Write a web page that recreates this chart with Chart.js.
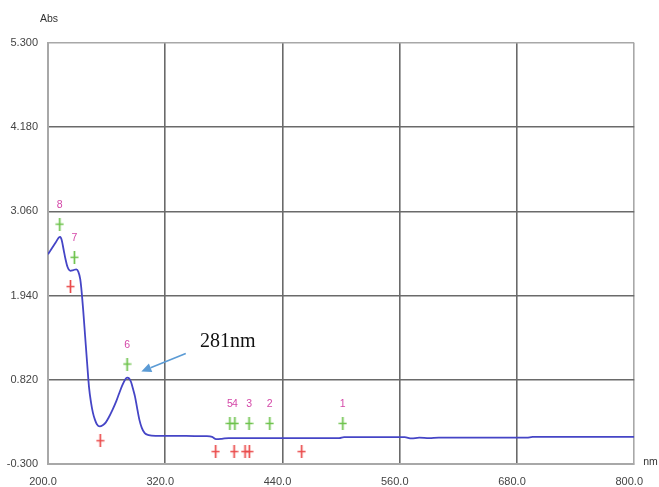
<!DOCTYPE html>
<html>
<head>
<meta charset="utf-8">
<script src="https://cdn.jsdelivr.net/npm/chart.js@4/dist/chart.umd.min.js"></script>
<style>
  html, body { margin: 0; padding: 0; background: #fff; }
  #wrap { width: 659px; height: 487px; }
</style>
</head>
<body>
<div id="wrap"><canvas id="c" width="659" height="487"></canvas></div>
<script>
// Absorbance spectrum (wavelength in nm, absorbance)
const wavelength = [200, 204, 208, 211, 212.5, 214, 216, 218, 220, 223, 226, 229, 231, 233, 234, 236, 238, 240, 242, 244, 246, 248, 250, 253, 256, 259, 262, 266, 270, 273, 276, 279, 281, 283, 285, 287, 289, 291, 293.5, 296, 299, 303, 310, 330, 350, 362, 368, 372, 378, 385, 395, 420, 460, 498, 503, 540, 565, 572, 580, 590, 600, 650, 690, 696, 750, 800];
const absorbance = [2.49, 2.57, 2.65, 2.71, 2.72, 2.68, 2.55, 2.42, 2.32, 2.27, 2.28, 2.29, 2.26, 2.16, 2.05, 1.75, 1.40, 1.05, 0.72, 0.52, 0.38, 0.29, 0.23, 0.20, 0.215, 0.25, 0.315, 0.42, 0.54, 0.645, 0.745, 0.825, 0.85, 0.84, 0.79, 0.70, 0.60, 0.46, 0.29, 0.18, 0.11, 0.085, 0.075, 0.075, 0.072, 0.07, 0.06, 0.03, 0.035, 0.045, 0.045, 0.045, 0.045, 0.045, 0.058, 0.058, 0.058, 0.04, 0.05, 0.045, 0.05, 0.05, 0.05, 0.06, 0.06, 0.06];

// Detected peaks (green markers) and their numbers
const peakNm = [501.7, 427, 405.8, 391.2, 386.1, 281, 227, 212];
const peakMarkAbs = [0.24, 0.24, 0.24, 0.24, 0.24, 1.03, 2.45, 2.89];
const peakLabels = ['1', '2', '3', '4', '5', '6', '7', '8'];

// Detected valleys (red markers)
const valleyNm = [223, 253.5, 371.6, 390.5, 401.7, 406.1, 459.6];
const valleyMarkAbs = [2.06, 0.01, -0.135, -0.135, -0.135, -0.135, -0.135];

// Axis ticks
const xTicks = [200, 320, 440, 560, 680, 800];
const yTicks = [-0.3, 0.82, 1.94, 3.06, 4.18, 5.3];

// Callout for the main band
const calloutText = '281nm';
const calloutTextAt = [384, 1.33];
const calloutFrom = [341, 1.17];
const calloutTo = [295.5, 0.93];

function makeCross(color) {
  const cv = document.createElement('canvas');
  cv.width = 9; cv.height = 13;
  const g = cv.getContext('2d');
  g.strokeStyle = color;
  g.lineWidth = 1.7;
  g.beginPath();
  g.moveTo(4.5, 0); g.lineTo(4.5, 13);
  g.moveTo(0.5, 6.5); g.lineTo(8.5, 6.5);
  g.stroke();
  return cv;
}

const greenCross = makeCross('#6cc24a');
const redCross = makeCross('#ea4a4a');

const spectrum = wavelength.map((x, i) => ({ x, y: absorbance[i] }));
const peaks = peakNm.map((x, i) => ({ x, y: peakMarkAbs[i] }));
const valleys = valleyNm.map((x, i) => ({ x, y: valleyMarkAbs[i] }));

const FONT = '"Liberation Sans", Arial, sans-serif';
const BORDER = '#a8a8a8';
const GRID = '#6a6a6a';

const overlay = {
  id: 'overlay',
  afterDatasetsDraw(chart) {
    const ctx = chart.ctx;
    const xs = chart.scales.x, ys = chart.scales.y;
    const area = chart.chartArea;
    ctx.save();

    // Peak numbers above the green markers
    const meta = chart.getDatasetMeta(1);
    ctx.fillStyle = '#d447a8';
    ctx.font = '10.5px ' + FONT;
    ctx.textAlign = 'center';
    ctx.textBaseline = 'middle';
    meta.data.forEach((pt, i) => {
      ctx.fillText(peakLabels[i], pt.x, pt.y - 19);
    });

    // Axis titles
    ctx.fillStyle = '#333';
    ctx.font = '10.5px ' + FONT;
    ctx.textAlign = 'center';
    ctx.fillText('Abs', area.left + 1, 19);
    ctx.textAlign = 'left';
    ctx.fillText('nm', area.right + 9, area.bottom - 2);

    // Callout arrow
    const x0 = xs.getPixelForValue(calloutFrom[0]), y0 = ys.getPixelForValue(calloutFrom[1]);
    const x1 = xs.getPixelForValue(calloutTo[0]), y1 = ys.getPixelForValue(calloutTo[1]);
    const ang = Math.atan2(y1 - y0, x1 - x0);
    const head = 10, half = 4.5;
    const bx = x1 - head * Math.cos(ang), by = y1 - head * Math.sin(ang);
    ctx.strokeStyle = '#5b9bd5';
    ctx.fillStyle = '#5b9bd5';
    ctx.lineWidth = 1.6;
    ctx.beginPath();
    ctx.moveTo(x0, y0); ctx.lineTo(bx, by);
    ctx.stroke();
    ctx.beginPath();
    ctx.moveTo(x1, y1);
    ctx.lineTo(bx + half * Math.sin(ang), by - half * Math.cos(ang));
    ctx.lineTo(bx - half * Math.sin(ang), by + half * Math.cos(ang));
    ctx.closePath();
    ctx.fill();

    // Callout text
    ctx.fillStyle = '#111';
    ctx.font = '20px "Liberation Serif", "Times New Roman", serif';
    ctx.textAlign = 'center';
    ctx.textBaseline = 'middle';
    ctx.fillText(calloutText, xs.getPixelForValue(calloutTextAt[0]), ys.getPixelForValue(calloutTextAt[1]));

    ctx.restore();
  }
};

const edgeColor = (ctx, lo, hi) => {
  const v = ctx.tick ? ctx.tick.value : null;
  if (v === null) return GRID;
  if (Math.abs(v - lo) < 1e-6 || Math.abs(v - hi) < 1e-6) return BORDER;
  return GRID;
};

new Chart(document.getElementById('c'), {
  type: 'scatter',
  data: {
    datasets: [
      {
        data: spectrum,
        showLine: true,
        borderColor: '#4545c6',
        borderWidth: 1.8,
        pointRadius: 0,
        cubicInterpolationMode: 'monotone',
        order: 3
      },
      {
        data: peaks,
        pointStyle: greenCross,
        pointRadius: 6,
        showLine: false,
        order: 1
      },
      {
        data: valleys,
        pointStyle: redCross,
        pointRadius: 6,
        showLine: false,
        order: 2
      }
    ]
  },
  options: {
    responsive: false,
    animation: false,
    events: [],
    layout: { padding: { top: 43, right: 23, left: 0, bottom: 0 } },
    plugins: { legend: { display: false }, tooltip: { enabled: false } },
    scales: {
      x: {
        type: 'linear',
        min: 200,
        max: 800,
        afterBuildTicks(scale) { scale.ticks = xTicks.map(v => ({ value: v })); },
        afterFit(scale) { scale.height = 23; },
        ticks: {
          callback: v => Number(v).toFixed(1),
          color: '#444',
          font: { family: FONT, size: 11 },
          padding: 11,
          labelOffset: -5,
          maxRotation: 0,
          autoSkip: false
        },
        grid: {
          drawTicks: false,
          lineWidth: 1.6,
          color: ctx => edgeColor(ctx, 200, 800)
        },
        border: { color: BORDER, width: 2 }
      },
      y: {
        type: 'linear',
        min: -0.3,
        max: 5.3,
        afterBuildTicks(scale) { scale.ticks = yTicks.map(v => ({ value: v })); },
        afterFit(scale) { scale.width = 48; },
        ticks: {
          callback: v => Number(v).toFixed(3),
          color: '#444',
          font: { family: FONT, size: 11 },
          padding: 10,
          autoSkip: false
        },
        grid: {
          drawTicks: false,
          lineWidth: 1.6,
          color: ctx => edgeColor(ctx, -0.3, 5.3)
        },
        border: { color: BORDER, width: 2 }
      }
    }
  },
  plugins: [overlay]
});
</script>
</body>
</html>
